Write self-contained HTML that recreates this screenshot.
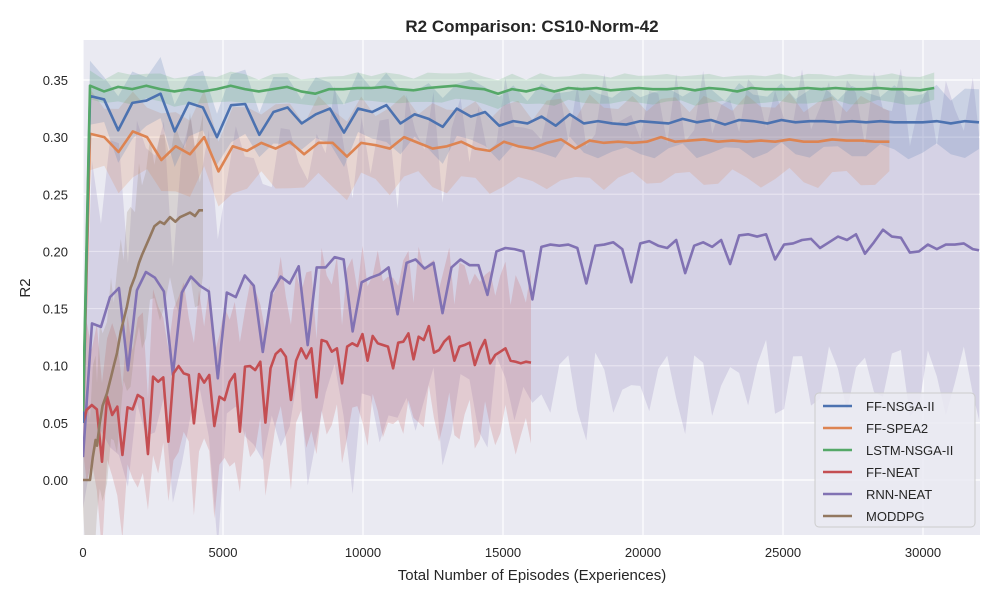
<!DOCTYPE html>
<html><head><meta charset="utf-8"><style>
body{margin:0;background:#fff;font-family:"Liberation Sans",Arial,sans-serif}
svg text{font-family:"Liberation Sans",Arial,sans-serif}
</style></head><body>
<svg id="chart" width="1000" height="600" xmlns="http://www.w3.org/2000/svg">
<defs><clipPath id="plotclip"><rect x="83" y="40" width="897" height="495"/></clipPath></defs>
<rect x="83" y="40" width="897" height="495" fill="#eaeaf2"/>
<g id="grid"></g>
<g id="bands" clip-path="url(#plotclip)"></g>
<g id="lines" clip-path="url(#plotclip)"></g>
<g id="ticks"></g>
<text x="532" y="32" text-anchor="middle" font-size="17" font-weight="bold" fill="#262626">R2 Comparison: CS10-Norm-42</text>
<text x="532" y="580" text-anchor="middle" font-size="15" fill="#262626">Total Number of Episodes (Experiences)</text>
<text x="30" y="288" text-anchor="middle" font-size="15" fill="#262626" transform="rotate(-90 30 288)">R2</text>
<g id="legend"></g>
</svg>
<script>
const xTicks=[0,5000,10000,15000,20000,25000,30000];
const yTicks=[0,0.05,0.10,0.15,0.20,0.25,0.30,0.35];
const seriesNames=["FF-NSGA-II","FF-SPEA2","LSTM-NSGA-II","FF-NEAT","RNN-NEAT","MODDPG"];
const bandWidth=[0.026,0.033,0.012,0.065,0.12,0.07];
const nsga2Y=[0.05,0.336,0.333,0.306,0.330,0.332,0.338,0.305,0.330,0.326,0.300,0.328,0.329,0.302,0.322,0.326,0.312,0.320,0.325,0.304,0.325,0.322,0.328,0.312,0.320,0.316,0.309,0.325,0.318,0.322,0.310,0.314,0.312,0.318,0.310,0.320,0.312,0.314,0.312,0.311,0.314,0.313,0.312,0.316,0.313,0.315,0.311,0.315,0.314,0.312,0.315,0.313,0.314,0.314,0.313,0.314,0.313,0.314,0.313,0.313,0.313,0.314,0.312,0.314,0.313];
const spea2Y=[0.05,0.303,0.300,0.287,0.305,0.300,0.280,0.292,0.285,0.300,0.270,0.292,0.288,0.295,0.290,0.296,0.285,0.295,0.295,0.283,0.295,0.293,0.290,0.300,0.295,0.290,0.292,0.296,0.290,0.288,0.296,0.292,0.290,0.295,0.298,0.290,0.297,0.295,0.296,0.295,0.296,0.300,0.296,0.297,0.298,0.296,0.297,0.296,0.297,0.296,0.298,0.296,0.296,0.298,0.297,0.297,0.296,0.296];
const lstmY=[0.06,0.345,0.340,0.344,0.342,0.345,0.342,0.340,0.342,0.340,0.342,0.345,0.342,0.340,0.342,0.344,0.340,0.338,0.342,0.342,0.343,0.343,0.344,0.342,0.341,0.343,0.344,0.345,0.343,0.342,0.338,0.342,0.340,0.343,0.340,0.343,0.342,0.343,0.341,0.342,0.343,0.342,0.342,0.343,0.341,0.343,0.342,0.340,0.343,0.342,0.342,0.342,0.343,0.342,0.343,0.342,0.342,0.343,0.342,0.342,0.341,0.343];
const neatY=[0.05,0.0613,0.0656,0.0618,0.016,0.0729,0.0569,0.0642,0.0219,0.0636,0.0618,0.0744,0.0715,0.0227,0.0904,0.086,0.0898,0.0335,0.0933,0.0997,0.0933,0.0919,0.0496,0.0927,0.0852,0.0919,0.0472,0.0729,0.07,0.086,0.0927,0.0423,0.0992,0.0997,0.0962,0.1035,0.0502,0.0977,0.1102,0.1143,0.1079,0.07,0.1044,0.1152,0.1065,0.1152,0.0723,0.1225,0.121,0.1123,0.1152,0.0846,0.1167,0.1196,0.1172,0.1277,0.1044,0.126,0.1196,0.1181,0.1167,0.0977,0.1202,0.121,0.1283,0.1056,0.1254,0.1225,0.1347,0.1114,0.1137,0.121,0.1254,0.1044,0.1167,0.1181,0.1202,0.1006,0.1137,0.1225,0.1021,0.1094,0.1123,0.1152,0.1044,0.1035,0.1021,0.1035,0.1027];
const rnnY=[0.02,0.137,0.134,0.160,0.168,0.096,0.166,0.182,0.177,0.165,0.092,0.164,0.178,0.170,0.165,0.089,0.164,0.160,0.179,0.170,0.112,0.164,0.178,0.172,0.187,0.118,0.186,0.186,0.195,0.193,0.130,0.173,0.177,0.180,0.186,0.145,0.190,0.193,0.185,0.190,0.146,0.186,0.193,0.188,0.188,0.162,0.200,0.203,0.202,0.200,0.158,0.204,0.206,0.205,0.206,0.203,0.172,0.205,0.206,0.208,0.202,0.173,0.207,0.209,0.205,0.203,0.21,0.181,0.205,0.208,0.204,0.21,0.189,0.214,0.215,0.213,0.215,0.193,0.206,0.207,0.21,0.211,0.203,0.208,0.213,0.21,0.215,0.198,0.208,0.219,0.213,0.212,0.199,0.2,0.206,0.202,0.206,0.206,0.207,0.202,0.201];
const ddpgX=[0,100,250,350,450,500,600,700,857,1000,1100,1214,1350,1450,1571,1700,1857,2000,2107,2250,2393,2550,2750,2900,3107,3300,3464,3650,3821,4000,4150,4286];
const ddpgY=[0,0,0,0.02,0.035,0.03,0.05,0.065,0.076,0.09,0.1,0.111,0.13,0.14,0.152,0.168,0.178,0.19,0.197,0.205,0.213,0.222,0.226,0.224,0.23,0.226,0.23,0.232,0.234,0.231,0.236,0.236];
const lastX=[32000,28800,30400];
const colors=["#4c72b0","#dd8452","#55a868","#c44e52","#8172b3","#937860"];
const NS="http://www.w3.org/2000/svg";
const X=v=>83+v*0.028, Y=v=>480-v*1142.86;
function mk(tag,attrs,parent){const e=document.createElementNS(NS,tag);for(const k in attrs)e.setAttribute(k,attrs[k]);document.getElementById(parent).appendChild(e);return e;}
xTicks.forEach(t=>{const g=mk('line',{x1:X(t),x2:X(t),y1:40,y2:535,stroke:'#fff','stroke-width':1.2},'grid');


const l=mk('text',{x:X(t),y:557,'text-anchor':'middle','font-size':13,fill:'#262626'},'ticks');l.textContent=t;

});
yTicks.forEach(t=>{const g=mk('line',{x1:83,x2:980,y1:Y(t),y2:Y(t),stroke:'#fff','stroke-width':1.2},'grid');


const l=mk('text',{x:68,y:Y(t)+5,'text-anchor':'end','font-size':13,fill:'#262626'},'ticks');l.textContent=t.toFixed(2);

});
const evenX=(arr,end)=>arr.map((_,i)=>i===0?0:250+(i-1)*(end-250)/(arr.length-2));
const allX=[
 evenX(nsga2Y,lastX[0]),
 evenX(spea2Y,lastX[1]),
 evenX(lstmY,lastX[2]),
 neatY.map((_,i)=>i===0?0:131+(i-1)*182.4),
 rnnY.map((_,i)=>Math.min(i*321,32000)),
 ddpgX];
const allY=[nsga2Y,spea2Y,lstmY,neatY,rnnY,ddpgY];
const order=[4,3,5,1,0,2];
order.forEach(s=>{const xs=allX[s],ys=allY[s],w=bandWidth[s];
 const amp=s===2?0.15:0.25;
 let up=xs.map((x,i)=>X(x)+','+Y(ys[i]+w*(i===0?0.3:1)*(1+amp*Math.sin(i*2.3)))).join(' ');
 let lo=xs.map((x,i)=>X(x)+','+Y(ys[i]-w*(i===0?0.3:1)*(1+amp*Math.cos(i*1.7)))).reverse().join(' ');
 const p=mk('polygon',{points:up+' '+lo,fill:colors[s],'fill-opacity':0.2,stroke:'none'},'bands');
 
 });
order.forEach(s=>{const xs=allX[s],ys=allY[s];
 const p=mk('polyline',{points:xs.map((x,i)=>X(x)+','+Y(ys[i])).join(' '),fill:'none',stroke:colors[s],'stroke-width':2.6,'stroke-linejoin':'round'},'lines');
 
 });
const lb=mk('rect',{x:815,y:393,width:160,height:134,rx:4,fill:'#eaeaf2','fill-opacity':0.85,stroke:'#ccc'},'legend');


seriesNames.forEach((n,i)=>{const y=406+i*22;
 const l=mk('line',{x1:823,x2:852,y1:y,y2:y,stroke:colors[i],'stroke-width':2.6},'legend');
 
 
 const t=mk('text',{x:866,y:y+5,'font-size':13,fill:'#262626'},'legend');t.textContent=n;
 
 });
</script>
</body></html>
